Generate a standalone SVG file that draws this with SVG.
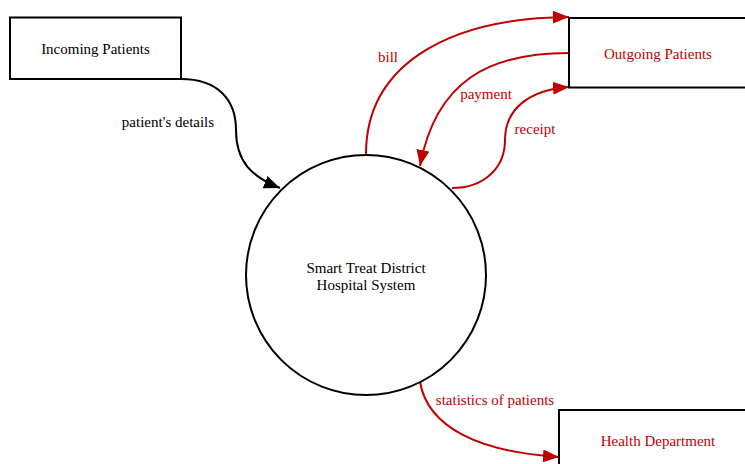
<svg xmlns="http://www.w3.org/2000/svg" width="745" height="464" viewBox="0 0 745 464">
<style>
text{font-family:"Liberation Serif","Times New Roman",serif;font-size:15px;text-anchor:middle}
.box{fill:#fff;stroke:#000;stroke-width:2}
.blk{fill:none;stroke:#000;stroke-width:2}
.red{fill:none;stroke:#c00000;stroke-width:2}
.rt{fill:#c00000}
.bt{fill:#000}
</style>
<defs>
<marker id="ab" markerUnits="userSpaceOnUse" markerWidth="18" markerHeight="14" refX="16" refY="6.5" orient="auto"><path d="M0,0 L16,6.5 L0,13 Z" fill="#000"/></marker>
<marker id="ar" markerUnits="userSpaceOnUse" markerWidth="18" markerHeight="14" refX="16" refY="6.5" orient="auto"><path d="M0,0 L16,6.5 L0,13 Z" fill="#c00000"/></marker>
</defs>
<rect width="745" height="464" fill="#fff"/>
<g id="connectors">
<g id="e-details"><path class="blk" d="M181,79 C218,79 236,100 236,130 C236,162 252,177 280,188" marker-end="url(#ab)"/><text class="bt" x="168" y="127">patient's details</text></g>
<g id="e-bill"><path class="red" d="M366,154 C366,70 440,18 569,17" marker-end="url(#ar)"/><text class="rt" x="388" y="62">bill</text></g>
<g id="e-payment"><path class="red" d="M569,53 C490,53 436,80 420,166" marker-end="url(#ar)"/><text class="rt" x="486" y="99">payment</text></g>
<g id="e-receipt"><path class="red" d="M452,188 C484,188 505,168 505,140 C505,108 530,90 569,87" marker-end="url(#ar)"/><text class="rt" x="535" y="134">receipt</text></g>
<g id="e-stats"><path class="red" d="M420,382 C428,428 480,452 559,457" marker-end="url(#ar)"/><text class="rt" x="495" y="405">statistics of patients</text></g>
</g>
<g id="n-incoming"><rect class="box" x="10" y="17.5" width="171" height="61.5"/><text x="95.5" y="54">Incoming Patients</text></g>
<g id="n-outgoing"><rect class="box" x="569" y="18" width="180" height="69.5"/><text class="rt" x="658" y="59">Outgoing Patients</text></g>
<g id="n-health"><rect class="box" x="559" y="410" width="190" height="60"/><text class="rt" x="658" y="446">Health Department</text></g>
<g id="n-system"><circle cx="366" cy="275" r="120" fill="#fff" stroke="#000" stroke-width="2"/><text x="366" y="273">Smart Treat District</text><text x="366" y="290">Hospital System</text></g>
</svg>
